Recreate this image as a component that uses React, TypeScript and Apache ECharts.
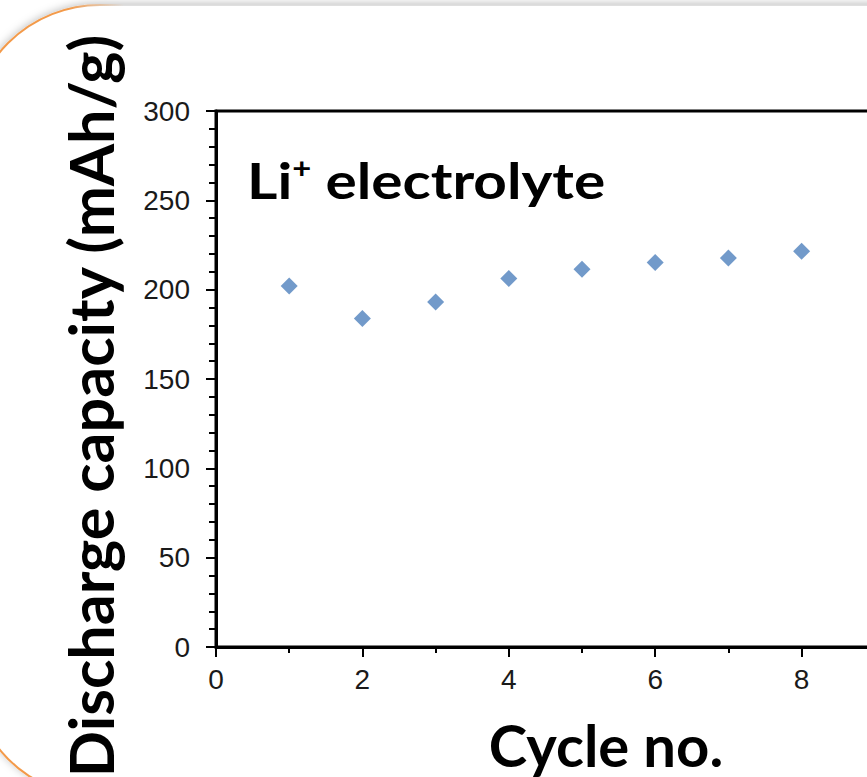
import React, { useEffect, useRef } from "react";
import * as echarts from "echarts";

const cycles = [1, 2, 3, 4, 5, 6, 7, 8];
const capacity = [202.0, 183.8, 193.1, 206.2, 211.4, 215.2, 217.7, 221.5];
const xTitle = "Cycle no.";
const yTitle = "Discharge capacity (mAh/g)";

export default function App() {
  const ref = useRef<HTMLDivElement>(null);
  useEffect(() => {
    if (!ref.current) return;
    const chart = echarts.init(ref.current, null, { renderer: "svg" });
    const axisFont = "'Liberation Sans', Arial, sans-serif";
    chart.setOption({
      animation: false,
      backgroundColor: "#ffffff",
      grid: { left: 216, right: 52, top: 111, bottom: 130, show: true, borderColor: "#000", borderWidth: 3 },
      xAxis: {
        type: "value",
        min: 0,
        max: 10,
        interval: 2,
        axisLine: { show: true, onZero: false, lineStyle: { color: "#000", width: 3 } },
        axisTick: { show: true, length: 10, lineStyle: { color: "#000", width: 2 } },
        minorTick: { show: true, splitNumber: 2, length: 6, lineStyle: { color: "#000", width: 2 } },
        splitLine: { show: false },
        axisLabel: { fontSize: 28, color: "#1a1a1a", fontFamily: axisFont, margin: 18, showMaxLabel: false },
      },
      yAxis: {
        type: "value",
        min: 0,
        max: 300,
        interval: 50,
        axisLine: { show: true, lineStyle: { color: "#000", width: 3 } },
        axisTick: { show: true, length: 10, lineStyle: { color: "#000", width: 2 } },
        minorTick: { show: true, splitNumber: 5, length: 7, lineStyle: { color: "#000", width: 2 } },
        splitLine: { show: false },
        axisLabel: { fontSize: 28, color: "#1a1a1a", fontFamily: axisFont, margin: 26 },
      },
      series: [
        {
          type: "scatter",
          data: cycles.map((c, i) => [c, capacity[i]]),
          symbol: "diamond",
          symbolSize: 17,
          itemStyle: { color: "#4f81bd" },
        },
      ],
      graphic: [
        {
          type: "rect",
          z: -10,
          silent: true,
          shape: { x: -30, y: 5, width: 1100, height: 792, r: 130 },
          style: {
            fill: "#ffffff",
            stroke: {
              type: "linear", x: 0, y: 0, x2: 1, y2: 0,
              colorStops: [
                { offset: 0, color: "#f39a4a" },
                { offset: 0.09, color: "#f39a4a" },
                { offset: 0.14, color: "rgba(215,215,215,0.8)" },
                { offset: 1, color: "rgba(215,215,215,0.8)" },
              ],
            },
            lineWidth: 2,
            shadowColor: "rgba(0,0,0,0.25)",
            shadowBlur: 8,
            shadowOffsetY: -1,
          },
        },
        {
          type: "text",
          x: 90,
          y: 406,
          rotation: Math.PI / 2,
          style: {
            text: yTitle,
            font: "bold 61px Lato, 'Open Sans', sans-serif",
            fill: "#000",
            align: "center",
            verticalAlign: "middle",
          },
        },
        {
          type: "text",
          x: 606,
          y: 773,
          style: {
            text: xTitle,
            font: "bold 58px Lato, 'Open Sans', sans-serif",
            fill: "#000",
            align: "center",
            verticalAlign: "bottom",
          },
        },
        {
          type: "text",
          x: 247,
          y: 180,
          scaleX: 1.17,
          style: {
            text: "{a|Li}{s|+}{a| electrolyte}",
            fill: "#000",
            align: "left",
            verticalAlign: "middle",
            rich: {
              a: { font: "bold 50px Lato, sans-serif", fill: "#000", lineHeight: 54, verticalAlign: "middle" },
              s: { font: "bold 28px Lato, sans-serif", fill: "#000", lineHeight: 54, verticalAlign: "top" },
            },
          },
        },
      ],
    });
    return () => chart.dispose();
  }, []);
  return (
    <div style={{ position: "fixed", left: 0, top: 0, width: 867, height: 777, overflow: "hidden", background: "#fff" }}>
      <div ref={ref} style={{ width: 1000, height: 777 }} />
    </div>
  );
}
